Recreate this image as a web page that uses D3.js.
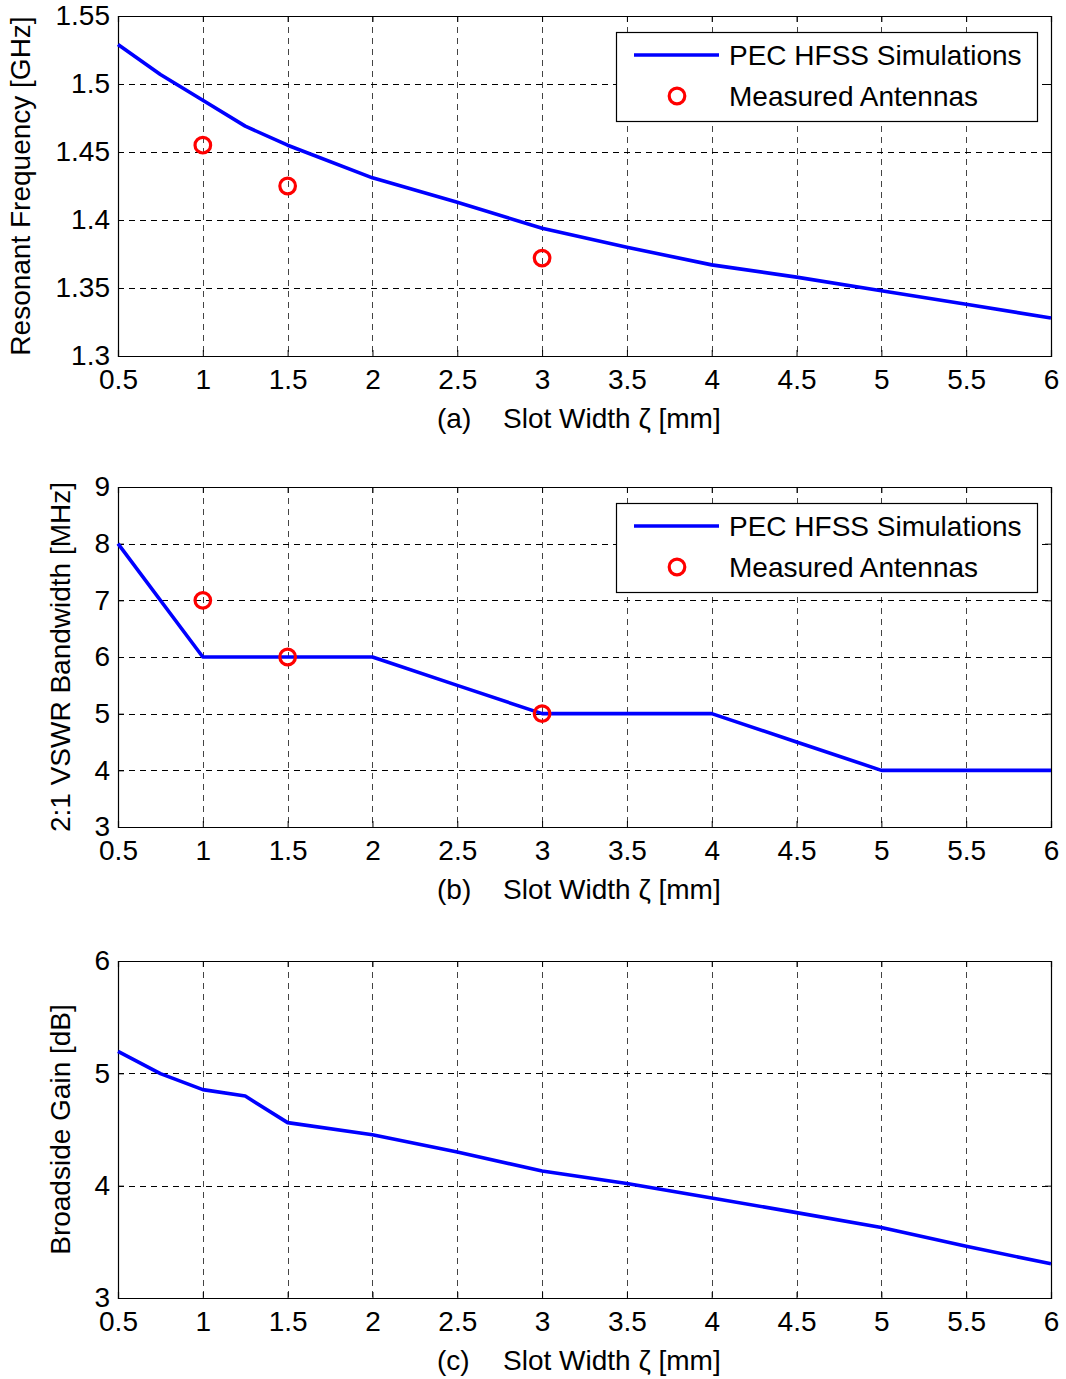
<!DOCTYPE html>
<html><head><meta charset="utf-8">
<script src="https://cdn.jsdelivr.net/npm/d3@7"></script>
<style>
body{margin:0;background:#fff;}
text{font-family:"Liberation Sans",Arial,sans-serif;fill:#000;}
</style></head>
<body>
<svg id="c" width="1066" height="1379"></svg>
<script>
// ---- data ----
const xTicks = [0.5,1,1.5,2,2.5,3,3.5,4,4.5,5,5.5,6];
const xTickLabels = ["0.5","1","1.5","2","2.5","3","3.5","4","4.5","5","5.5","6"];

const freqSimX = [0.5,0.75,1,1.25,1.5,2,2.5,3,3.5,4,4.5,5,5.5,6];
const freqSimY = [1.529,1.507,1.488,1.469,1.455,1.431,1.413,1.394,1.380,1.367,1.358,1.348,1.338,1.328];
const freqMeasX = [1,1.5,3];
const freqMeasY = [1.455,1.425,1.372];
const freqYTicks = [1.3,1.35,1.4,1.45,1.5,1.55];
const freqYTickLabels = ["1.3","1.35","1.4","1.45","1.5","1.55"];

const bwSimX = [0.5,1,1.5,2,2.5,3,3.5,4,4.5,5,5.5,6];
const bwSimY = [8,6,6,6,5.5,5,5,5,4.5,4,4,4];
const bwMeasX = [1,1.5,3];
const bwMeasY = [7,6,5];
const bwYTicks = [3,4,5,6,7,8,9];
const bwYTickLabels = ["3","4","5","6","7","8","9"];

const gainSimX = [0.5,0.75,1,1.25,1.5,2,2.5,3,3.5,4,4.5,5,5.5,6];
const gainSimY = [5.196,4.997,4.855,4.798,4.561,4.454,4.30,4.13,4.02,3.89,3.76,3.627,3.46,3.305];
const gainYTicks = [3,4,5,6];
const gainYTickLabels = ["3","4","5","6"];

const legendLabels = ["PEC HFSS Simulations","Measured Antennas"];

// ---- drawing ----
const svg = d3.select("#c");
const X0 = 118, X1 = 1051;
const FS = "28px";

function panel(opt){
  const g = svg.append("g");
  const x = d3.scaleLinear().domain([0.5,6]).range([X0,X1]);
  const y = d3.scaleLinear().domain(opt.yDomain).range([opt.bottom, opt.top]);
  // grid
  const gridG = g.append("g").attr("stroke","#000").attr("stroke-width",1).attr("stroke-dasharray","6,5").attr("shape-rendering","crispEdges");
  xTicks.slice(1,-1).forEach(v=>{
    gridG.append("line").attr("x1",Math.round(x(v))+0.5).attr("x2",Math.round(x(v))+0.5).attr("y1",opt.top).attr("y2",opt.bottom).attr("stroke","#444");
  });
  opt.yTicks.slice(1,-1).forEach(v=>{
    gridG.append("line").attr("y1",Math.round(y(v))+0.5).attr("y2",Math.round(y(v))+0.5).attr("x1",X0).attr("x2",X1);
  });
  // axes
  const xb = d3.axisBottom(x).tickValues(xTicks).tickSize(-6).tickPadding(13).tickFormat((d,i)=>xTickLabels[i]);
  const xt = d3.axisTop(x).tickValues(xTicks).tickSize(-6).tickFormat("");
  const yl = d3.axisLeft(y).tickValues(opt.yTicks).tickSize(-6).tickPadding(8).tickFormat((d,i)=>opt.yTickLabels[i]);
  const yr = d3.axisRight(y).tickValues(opt.yTicks).tickSize(-6).tickFormat("");
  const ax = [
    g.append("g").attr("transform",`translate(0,${opt.bottom})`).call(xb),
    g.append("g").attr("transform",`translate(0,${opt.top})`).call(xt),
    g.append("g").attr("transform",`translate(${X0},0)`).call(yl),
    g.append("g").attr("transform",`translate(${X1},0)`).call(yr)
  ];
  ax.forEach(a=>{
    a.select(".domain").attr("stroke","#000").attr("stroke-width",1.2);
    a.selectAll(".tick line").attr("stroke","#000");
    a.selectAll("text").style("font-family","Liberation Sans, Arial, sans-serif").style("font-size",FS).attr("fill","#000");
  });
  ax[2].selectAll(".tick text").attr("x",-8);
  // line
  const line = d3.line().x(d=>x(d[0])).y(d=>y(d[1]));
  const pts = opt.simX.map((v,i)=>[v,opt.simY[i]]);
  g.append("path").datum(pts).attr("d",line).attr("fill","none").attr("stroke","#0000ff").attr("stroke-width",3.6).attr("stroke-linejoin","round");
  if(opt.measX){
    g.selectAll("circle.m").data(opt.measX.map((v,i)=>[v,opt.measY[i]])).enter().append("circle")
      .attr("cx",d=>x(d[0])).attr("cy",d=>y(d[1])).attr("r",7.8)
      .attr("fill","none").attr("stroke","#ff0000").attr("stroke-width",3.2);
  }
  // legend
  if(opt.legendTop!==undefined){
    const ly = opt.legendTop;
    const lg = g.append("g");
    lg.append("rect").attr("x",616.5).attr("y",ly+0.5).attr("width",421).attr("height",89).attr("fill","#fff").attr("stroke","#000").attr("stroke-width",1.2);
    lg.append("line").attr("x1",634).attr("x2",719).attr("y1",ly+23).attr("y2",ly+23).attr("stroke","#0000ff").attr("stroke-width",3.6);
    lg.append("circle").attr("cx",677).attr("cy",ly+64).attr("r",7.8).attr("fill","none").attr("stroke","#ff0000").attr("stroke-width",3.2);
    lg.append("text").attr("x",729).attr("y",ly+33).style("font-size",FS).text(legendLabels[0]);
    lg.append("text").attr("x",729).attr("y",ly+74).style("font-size",FS).text(legendLabels[1]);
  }
  // x label
  if(opt.tag){
    g.append("text").attr("x",437).attr("y",opt.bottom+72).style("font-size",FS).text(opt.tag);
    g.append("text").attr("x",503).attr("y",opt.bottom+72).style("font-size",FS).text("Slot Width ζ [mm]");
  }
  // y label
  g.append("text").attr("transform",`translate(${opt.ylabX},${(opt.top+opt.bottom)/2}) rotate(-90)`)
    .attr("text-anchor","middle").style("font-size",FS).text(opt.ylabel);
}

panel({top:16,bottom:356,yDomain:[1.3,1.55],yTicks:freqYTicks,yTickLabels:freqYTickLabels,
  simX:freqSimX,simY:freqSimY,measX:freqMeasX,measY:freqMeasY,legendTop:32,tag:"(a)",
  ylabel:"Resonant Frequency [GHz]",ylabX:30});
panel({top:487,bottom:827,yDomain:[3,9],yTicks:bwYTicks,yTickLabels:bwYTickLabels,
  simX:bwSimX,simY:bwSimY,measX:bwMeasX,measY:bwMeasY,legendTop:503,tag:"(b)",
  ylabel:"2:1 VSWR Bandwidth [MHz]",ylabX:70});
panel({top:961,bottom:1298,yDomain:[3,6],yTicks:gainYTicks,yTickLabels:gainYTickLabels,
  simX:gainSimX,simY:gainSimY,tag:"(c)",
  ylabel:"Broadside Gain [dB]",ylabX:70});
</script>
</body></html>
